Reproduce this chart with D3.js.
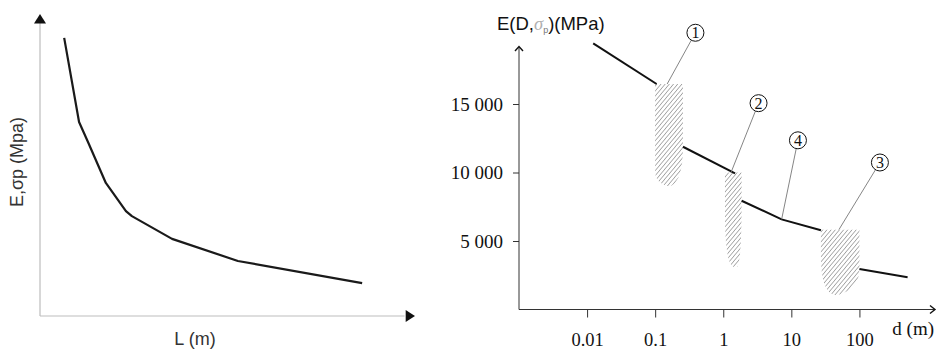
<!DOCTYPE html>
<html>
<head>
<meta charset="utf-8">
<script src="https://cdn.jsdelivr.net/npm/d3@7"></script>
<style>
  html, body { margin: 0; padding: 0; background: #fff; }
  svg { display: block; }
</style>
</head>
<body>
<svg id="chart" width="937" height="349"></svg>
<script>
// left sketch: arbitrary units 0..100 on both axes
const leftL = [6.5, 10.5, 12.9, 17.7, 23.1, 24.7, 35.5, 53.2, 86.6];
const leftE = [93, 64.9, 58.2, 44.5, 35.1, 33.4, 25.8, 18.4, 11.0];

// right chart: E vs d (log)
const xTicks = [0.01, 0.1, 1, 10, 100];
const xTickLabels = ['0.01', '0.1', '1', '10', '100'];
const yTicks = [5000, 10000, 15000];
const yTickLabels = ['5 000', '10 000', '15 000'];

// line segments between the hatched zones
const segments = [
  [[0.0123, 19430], [0.105, 16460]],
  [[0.256, 11880], [1.49, 9940]],
  [[1.86, 7940], [7.2, 6580], [27.2, 5780]],
  [[100, 2960], [510, 2350]]
];

// hatched zones: d from x0 to x1, E from top down to knee (right side), tip at bottom
const zoneX0 = [0.1, 1.06, 27.2];
const zoneX1 = [0.256, 1.86, 100];
const zoneTop = [16460, 10000, 5830];
const zoneKnee = [11880, 7940, 2960];
const zoneLeftKnee = [10000, 7000, 3900];
const zoneTipX = [0.16, 1.5, 45];
const zoneBottom = [9020, 3120, 1060];

// callouts: number, bubble position, leader end (data)
const calloutLabels = ['1', '2', '4', '3'];
const calloutBubbleX = [0.39, 3.3, 12.5, 200];
const calloutBubbleY = [20200, 15060, 12350, 10730];
const calloutEndX = [0.15, 1.3, 7.2, 50];
const calloutEndY = [16460, 10000, 6580, 5830];

const svg = d3.select('#chart');

// ---------- left panel ----------
const lx = d3.scaleLinear().domain([0, 100]).range([40, 412]);
const ly = d3.scaleLinear().domain([0, 100]).range([316, 17]);
const left = svg.append('g');

left.append('line')
  .attr('x1', lx(0)).attr('y1', ly(0))
  .attr('x2', lx(0)).attr('y2', ly(98))
  .attr('stroke', '#bdbdbd').attr('stroke-width', 1.2);
left.append('line')
  .attr('x1', lx(0)).attr('y1', ly(0))
  .attr('x2', lx(98)).attr('y2', ly(0))
  .attr('stroke', '#bdbdbd').attr('stroke-width', 1.2);
left.append('path')
  .attr('d', `M${lx(0) - 6},${ly(97.8)} L${lx(0)},${ly(101)} L${lx(0) + 6},${ly(97.8)} Z`)
  .attr('fill', '#111');
left.append('path')
  .attr('d', `M${lx(98.3)},${ly(0) - 6} L${lx(100.8)},${ly(0)} L${lx(98.3)},${ly(0) + 6} Z`)
  .attr('fill', '#111');

const leftLine = d3.line()
  .x((d, i) => lx(leftL[i]))
  .y((d, i) => ly(leftE[i]));
left.append('path')
  .datum(leftL)
  .attr('d', leftLine)
  .attr('fill', 'none')
  .attr('stroke', '#1a1a1a')
  .attr('stroke-width', 2.2)
  .attr('stroke-linejoin', 'round');

left.append('text')
  .attr('transform', `translate(23,162) rotate(-90)`)
  .attr('text-anchor', 'middle')
  .attr('font-family', 'Liberation Sans, Arial, sans-serif')
  .attr('font-size', 18)
  .attr('fill', '#333')
  .text('E,σp (Mpa)');
left.append('text')
  .attr('x', 195).attr('y', 345)
  .attr('text-anchor', 'middle')
  .attr('font-family', 'Liberation Sans, Arial, sans-serif')
  .attr('font-size', 18)
  .attr('fill', '#333')
  .text('L (m)');

// ---------- right panel ----------
const x = d3.scaleLog().domain([0.001, 10 ** 3.11]).range([519, 935]);
const y = d3.scaleLinear().domain([0, 5000]).range([309.5, 241]);
const right = svg.append('g');
const serif = 'Liberation Serif, Times New Roman, serif';

const defs = svg.append('defs');
const pat = defs.append('pattern')
  .attr('id', 'hatch')
  .attr('patternUnits', 'userSpaceOnUse')
  .attr('width', 3.2).attr('height', 3.2)
  .attr('patternTransform', 'rotate(40)');
pat.append('line')
  .attr('x1', 0).attr('y1', 0).attr('x2', 0).attr('y2', 3.2)
  .attr('stroke', '#666').attr('stroke-width', 1);

// axes
const xAxis = d3.axisBottom(x)
  .tickValues(xTicks)
  .tickFormat((d, i) => xTickLabels[i])
  .tickSize(8)
  .tickSizeOuter(0);
const gx = right.append('g')
  .attr('transform', `translate(0,${y(0)})`)
  .call(xAxis);
gx.select('.domain').remove();
gx.selectAll('.tick line').attr('stroke', '#333');
gx.selectAll('.tick text')
  .attr('y', 23)
  .attr('font-family', serif)
  .attr('font-size', 18.5)
  .attr('fill', '#111');

const yAxis = d3.axisLeft(y)
  .tickValues(yTicks)
  .tickFormat((d, i) => yTickLabels[i])
  .tickSize(6)
  .tickSizeOuter(0);
const gy = right.append('g')
  .attr('transform', `translate(${x.range()[0]},0)`)
  .call(yAxis);
gy.select('.domain').remove();
gy.selectAll('.tick line').attr('stroke', '#333');
gy.selectAll('.tick text')
  .attr('x', -16)
  .attr('font-family', serif)
  .attr('font-size', 19)
  .attr('fill', '#111');

right.append('line')
  .attr('x1', x.range()[0]).attr('y1', y(0))
  .attr('x2', x.range()[1]).attr('y2', y(0))
  .attr('stroke', '#333').attr('stroke-width', 1);
right.append('line')
  .attr('x1', x.range()[0]).attr('y1', y(0))
  .attr('x2', x.range()[0]).attr('y2', 47)
  .attr('stroke', '#333').attr('stroke-width', 1);
right.append('path')
  .attr('d', `M${x.range()[0] - 4},51 L${x.range()[0]},46.5 L${x.range()[0] + 4},51`)
  .attr('fill', 'none').attr('stroke', '#111').attr('stroke-width', 1.4);
right.append('path')
  .attr('d', `M${x.range()[1] - 5},${y(0) - 4} L${x.range()[1]},${y(0)} L${x.range()[1] - 5},${y(0) + 4}`)
  .attr('fill', 'none').attr('stroke', '#111').attr('stroke-width', 1.4);

right.append('text')
  .attr('x', 934).attr('y', 335)
  .attr('text-anchor', 'end')
  .attr('font-family', serif)
  .attr('font-size', 19)
  .attr('fill', '#111')
  .text('d (m)');

const ylab = right.append('text')
  .attr('x', 497).attr('y', 30)
  .attr('font-family', 'Liberation Sans, Arial, sans-serif')
  .attr('font-size', 18.5)
  .attr('fill', '#111');
ylab.append('tspan').text('E(D,');
ylab.append('tspan').attr('fill', '#b0b0b0').attr('font-family', serif).attr('font-style', 'italic').text('σ');
ylab.append('tspan').attr('font-size', 9).attr('dy', 3).attr('fill', '#777').text('p');
ylab.append('tspan').attr('dy', -3).text(')(MPa)');

// hatched zones
const zones = zoneX0.map((d, i) => ({
  x0: x(d), x1: x(zoneX1[i]),
  top: y(zoneTop[i]), knee: y(zoneKnee[i]), leftKnee: y(zoneLeftKnee[i]),
  tipX: x(zoneTipX[i]), bottom: y(zoneBottom[i])
}));
right.selectAll('path.zone')
  .data(zones)
  .join('path')
  .attr('class', 'zone')
  .attr('d', (z) => {
    const p = d3.path();
    p.moveTo(z.x0, z.top);
    p.lineTo(z.x1, z.top);
    p.lineTo(z.x1, z.knee);
    p.quadraticCurveTo(z.x1, z.bottom - 6, z.tipX + 2, z.bottom);
    p.lineTo(z.tipX - 2, z.bottom);
    p.quadraticCurveTo(z.x0, z.bottom - 4, z.x0, z.leftKnee);
    p.closePath();
    return p.toString();
  })
  .attr('fill', 'url(#hatch)');

// line segments
const segLine = d3.line()
  .x((d) => x(d[0]))
  .y((d) => y(d[1]));
right.selectAll('path.seg')
  .data(segments)
  .join('path')
  .attr('class', 'seg')
  .attr('d', segLine)
  .attr('fill', 'none')
  .attr('stroke', '#111')
  .attr('stroke-width', 2);

// callouts
const callouts = calloutLabels.map((d, i) => ({
  label: d,
  cx: x(calloutBubbleX[i]), cy: y(calloutBubbleY[i]),
  ex: x(calloutEndX[i]), ey: y(calloutEndY[i])
}));
const r = 8.5;
const cg = right.selectAll('g.callout')
  .data(callouts)
  .join('g')
  .attr('class', 'callout');
cg.append('line')
  .attr('x1', (c) => c.cx + r * Math.cos(Math.atan2(c.ey - c.cy, c.ex - c.cx)))
  .attr('y1', (c) => c.cy + r * Math.sin(Math.atan2(c.ey - c.cy, c.ex - c.cx)))
  .attr('x2', (c) => c.ex)
  .attr('y2', (c) => c.ey)
  .attr('stroke', '#777')
  .attr('stroke-width', 0.9);
cg.append('circle')
  .attr('cx', (c) => c.cx).attr('cy', (c) => c.cy).attr('r', r)
  .attr('fill', '#fff').attr('stroke', '#111').attr('stroke-width', 1);
cg.append('text')
  .attr('x', (c) => c.cx).attr('y', (c) => c.cy + 5.5)
  .attr('text-anchor', 'middle')
  .attr('font-family', serif)
  .attr('font-size', 16)
  .attr('fill', '#111')
  .text((c) => c.label);
</script>
</body>
</html>
